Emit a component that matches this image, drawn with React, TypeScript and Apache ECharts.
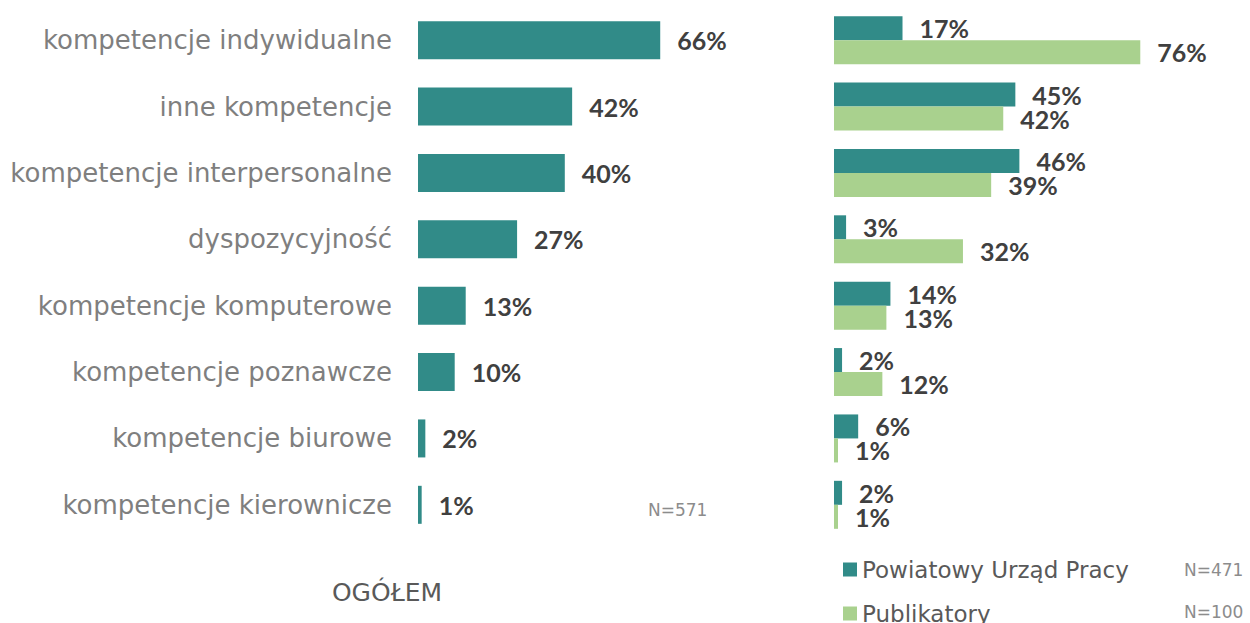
import React, { useEffect, useRef } from "react";
import * as echarts from "echarts";

const categories = [
  "kompetencje indywidualne",
  "inne kompetencje",
  "kompetencje interpersonalne",
  "dyspozycyjność",
  "kompetencje komputerowe",
  "kompetencje poznawcze",
  "kompetencje biurowe",
  "kompetencje kierownicze",
];
const ogolem = [66, 42, 40, 27, 13, 10, 2, 1];
const pup = [17, 45, 46, 3, 14, 2, 6, 2];
const publikatory = [76, 42, 39, 32, 13, 12, 1, 1];
const seriesNames = ["Powiatowy Urząd Pracy", "Publikatory"];

const TEAL = "#318B88";
const GREEN = "#A9D18E";
const CAT_FONT = "'DejaVu Sans', sans-serif";
const NUM_FONT = "Lato, 'Open Sans', sans-serif";

export default function App() {
  const ref = useRef<HTMLDivElement>(null);
  useEffect(() => {
    if (!ref.current) return;
    const chart = echarts.init(ref.current, null, { renderer: "svg" });
    const label = {
      show: true,
      position: "right" as const,
      distance: 17,
      formatter: "{c}%",
      fontFamily: NUM_FONT,
      fontWeight: "bold" as const,
      fontSize: 25,
      color: "#404040",
    };
    const legendBase = {
      orient: "vertical" as const,
      left: 838,
      icon: "rect",
      itemWidth: 14,
      itemHeight: 14,
      itemGap: 10,
      itemStyle: { borderWidth: 0 },
      textStyle: { fontFamily: CAT_FONT, fontSize: 23, color: "#595959" },
    };
    chart.setOption({
      animation: false,
      backgroundColor: "#ffffff",
      grid: [
        { left: 418, top: 7, height: 531, width: 293.6 },
        { left: 834, top: 7, height: 531, width: 322.4 },
      ],
      xAxis: [
        { type: "value", gridIndex: 0, min: 0, max: 80, show: false },
        { type: "value", gridIndex: 1, min: 0, max: 80, show: false },
      ],
      yAxis: [
        {
          type: "category",
          gridIndex: 0,
          data: categories,
          inverse: true,
          axisLine: { show: false },
          axisTick: { show: false },
          axisLabel: {
            margin: 26,
            fontFamily: CAT_FONT,
            fontSize: 26,
            color: "#7F7F7F",
          },
        },
        {
          type: "category",
          gridIndex: 1,
          data: categories,
          inverse: true,
          axisLine: { show: false },
          axisTick: { show: false },
          axisLabel: { show: false },
        },
      ],
      legend: [
        { ...legendBase, top: 553, data: [seriesNames[0]] },
        { ...legendBase, top: 597, data: [seriesNames[1]] },
      ],
      series: [
        {
          type: "bar",
          name: "OGÓŁEM",
          xAxisIndex: 0,
          yAxisIndex: 0,
          data: ogolem,
          barWidth: 38,
          itemStyle: { color: TEAL },
          label,
        },
        {
          type: "bar",
          name: seriesNames[0],
          xAxisIndex: 1,
          yAxisIndex: 1,
          data: pup,
          barWidth: 24,
          barGap: "0%",
          itemStyle: { color: TEAL },
          label,
        },
        {
          type: "bar",
          name: seriesNames[1],
          xAxisIndex: 1,
          yAxisIndex: 1,
          data: publikatory,
          barWidth: 24,
          barGap: "0%",
          itemStyle: { color: GREEN },
          label,
        },
      ],
      graphic: [
        {
          type: "text",
          left: 648,
          top: 501,
          style: { text: "N=571", fontFamily: CAT_FONT, fontSize: 17, fill: "#8C8C8C" },
        },
        {
          type: "text",
          left: 1184,
          top: 561,
          style: { text: "N=471", fontFamily: CAT_FONT, fontSize: 17, fill: "#8C8C8C" },
        },
        {
          type: "text",
          left: 1184,
          top: 603,
          style: { text: "N=100", fontFamily: CAT_FONT, fontSize: 17, fill: "#8C8C8C" },
        },
        {
          type: "text",
          x: 387,
          y: 592,
          style: {
            text: "OGÓŁEM",
            fontFamily: CAT_FONT,
            fontSize: 25,
            fill: "#595959",
            align: "center",
            verticalAlign: "middle",
          },
        },
      ],
    });
    return () => chart.dispose();
  }, []);
  return <div ref={ref} style={{ width: 1250, height: 623, position: "absolute", left: 0, top: 0 }} />;
}
